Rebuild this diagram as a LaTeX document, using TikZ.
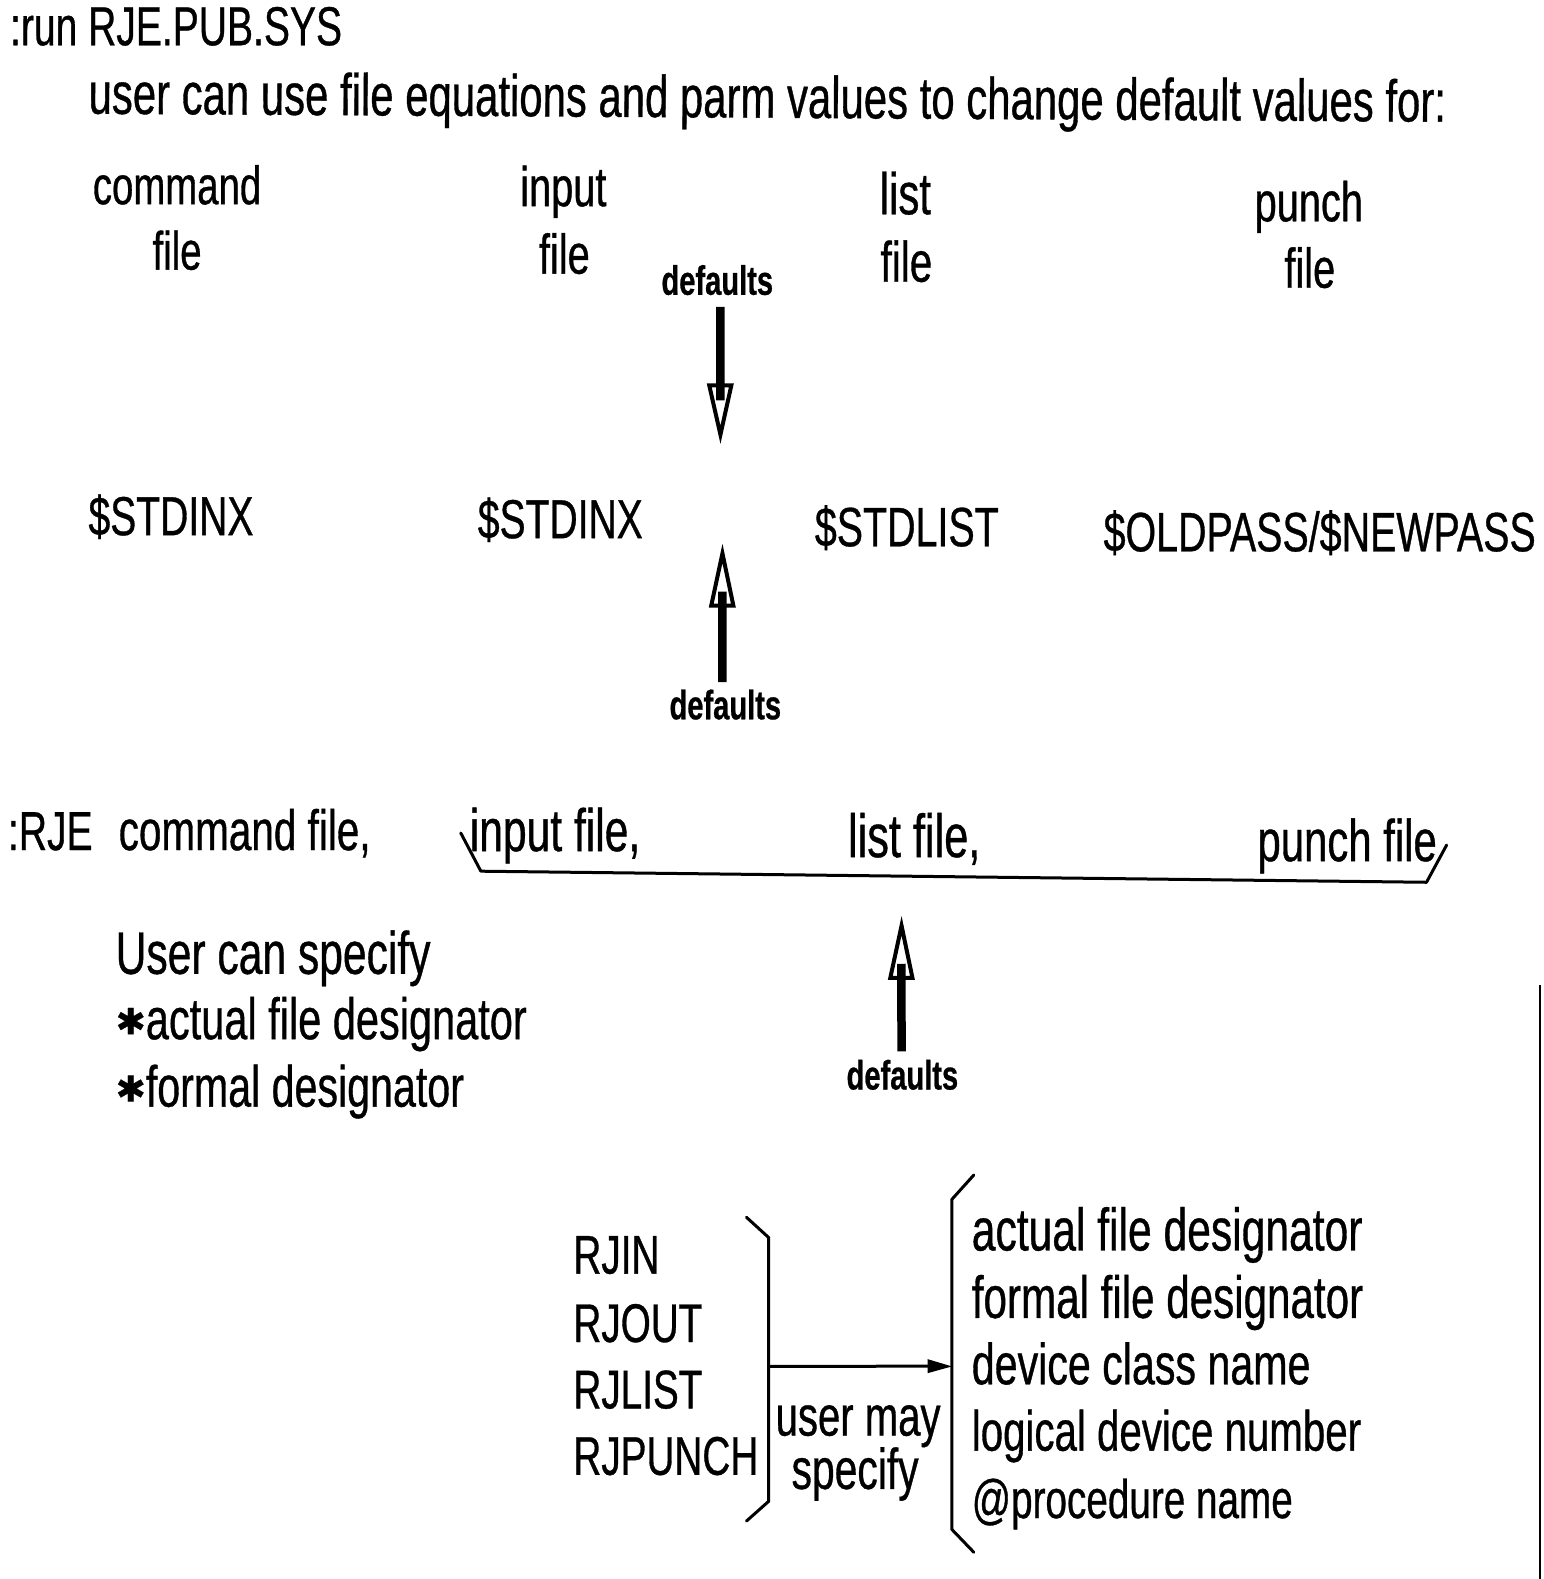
\documentclass[tikz,border=0pt]{standalone}
\usepackage{fontspec}
\setmainfont{Liberation Sans}[FakeStretch=0.71, FakeBold=0.6]
\newfontfamily\djv{DejaVu Sans}[FakeBold=0.6]
\newcommand\fsz[1]{\fontsize{#1}{#1}\selectfont}
\newcommand\hstar{\raisebox{5pt}{\djv\fsz{36}✱}}
\begin{document}
\begin{tikzpicture}[x=1pt,y=-1pt,
  txt/.style={inner sep=0pt, outer sep=0pt, anchor=base west},
  ctxt/.style={inner sep=0pt, outer sep=0pt, anchor=base},
  deflabel/.style={inner sep=0pt, outer sep=0pt, anchor=base, font=\fsz{41}\bfseries},
  bline/.style={line width=3pt, line cap=round, line join=round},
  shaft/.style={line width=8.5pt},
  headtri/.style={line width=4pt, fill=white, line join=miter}]
\useasboundingbox (0,0) rectangle (1543,1579);

\begin{scope}[scale=1.006]
% header
\node[txt, font=\fsz{55}] (run) at (10,45) {:run RJE.PUB.SYS};
\node[txt, font=\fsz{59}, rotate=-0.34] (user) at (88,113) {user can use file equations and parm values to change default values for:};

% column headings
\node[ctxt, font=\fsz{54}] (cmdA) at (176,203) {command};
\node[ctxt, font=\fsz{54}] (cmdB) at (176,268) {file};
\node[ctxt, font=\fsz{56}] (inA) at (560,205) {input};
\node[ctxt, font=\fsz{56}] (inB) at (561,272) {file};
\node[ctxt, font=\fsz{59}] (lsA) at (900,213) {list};
\node[ctxt, font=\fsz{57}] (lsB) at (901,280) {file};
\node[ctxt, font=\fsz{56}] (puA) at (1301,220) {punch};
\node[ctxt, font=\fsz{56}] (puB) at (1302,286) {file};

\node[deflabel] (defA) at (713,293) {defaults};

% defaults values
\node[txt, font=\fsz{55}] (sdA) at (88,532) {\$STDINX};
\node[txt, font=\fsz{55}] (sdB) at (475,535) {\$STDINX};
\node[txt, font=\fsz{55.5}] (sdl) at (810,543) {\$STDLIST};
\node[txt, font=\fsz{55.5}] (sdp) at (1097,548) {\$OLDPASS/\$NEWPASS};

\node[deflabel] (defB) at (721,715) {defaults};

% RJE command line
\node[txt, font=\fsz{55}] (rje) at (8,845) {:RJE};
\node[txt, font=\fsz{57}] (rjecmd) at (118,845) {command file,};
\node[txt, font=\fsz{60}] (rjein) at (467,846) {input file,};
\node[txt, font=\fsz{61}] (rjels) at (843,852) {list file,};
\node[txt, font=\fsz{59}] (rjepu) at (1250,856) {punch file};

\node[deflabel] (defC) at (897,1083) {defaults};

% user can specify
\node[txt, font=\fsz{60}] (ucs) at (115,968) {User can specify};
\node[txt, font=\fsz{58.5}] (ucsA) at (115,1033) {\hstar actual file designator};
\node[txt, font=\fsz{58}] (ucsB) at (115,1100) {\hstar formal designator};

% RJ files
\node[txt, font=\fsz{54.5}] (rjin) at (570,1266) {RJIN};
\node[txt, font=\fsz{54.5}] (rjout) at (570,1334) {RJOUT};
\node[txt, font=\fsz{54.5}] (rjlist) at (570,1400) {RJLIST};
\node[txt, font=\fsz{54.5}] (rjpunch) at (570,1466) {RJPUNCH};

\node[ctxt, font=\fsz{56.5}] (umA) at (853,1427) {user may};
\node[ctxt, font=\fsz{57.5}] (umB) at (850,1480) {specify};

\node[txt, font=\fsz{60}] (oA) at (966,1243) {actual file designator};
\node[txt, font=\fsz{59.4}] (oB) at (966,1310) {formal file designator};
\node[txt, font=\fsz{58}] (oC) at (966,1376) {device class name};
\node[txt, font=\fsz{56.7}] (oD) at (966,1442) {logical device number};
\node[txt, font=\fsz{54.5}] (oE) at (966,1509) {@procedure name};

% arrow 1 (down)
\coordinate (a1s) at (716,305);
\coordinate (a1t) at (716,432);
\draw[headtri] (705,383) -- (a1t) -- (727,383) -- cycle;
\draw[shaft] (a1s) -- (716,398);

% arrow 2 (up)
\coordinate (a2s) at (718,678);
\coordinate (a2t) at (718,550);
\draw[headtri] (707,602) -- (a2t) -- (729,602) -- cycle;
\draw[shaft] (a2s) -- (718,588);

% arrow 3 (up)
\coordinate (a3s) at (896,1045);
\coordinate (a3t) at (896,920);
\draw[headtri] (885,972) -- (a3t) -- (907,972) -- cycle;
\draw[shaft] (a3s) -- (896,958);

% underbrace for RJE parameters
\draw[bline] (458,828) -- (478,866) -- (1418,877) -- (1438,840);

% right bracket of RJ names
\coordinate (rbTop) at (764,1230);
\coordinate (rbBot) at (764,1492);
\draw[bline] (742,1210) -- (rbTop) -- (rbBot) -- (742,1512);

% left bracket of options
\coordinate (lbTop) at (946,1192);
\coordinate (lbBot) at (946,1520);
\draw[bline] (968,1168) -- (lbTop) -- (lbBot) -- (968,1543);

% connecting arrow
\coordinate (cA) at (764,1358);
\coordinate (cB) at (946,1358);
\draw[line width=3pt] (cA) -- (925,1358);
\fill (cB) -- (922,1351) -- (922,1365) -- cycle;
\end{scope}

% page edge line
\draw[line width=2pt] (1540,985) -- (1540,1579);
\end{tikzpicture}
\end{document}
